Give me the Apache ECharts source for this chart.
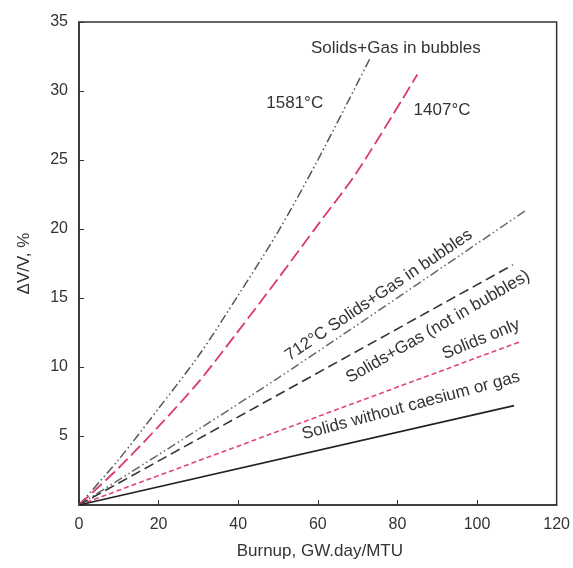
<!DOCTYPE html>
<html>
<head>
<meta charset="utf-8">
<script src="https://cdn.jsdelivr.net/npm/echarts@6/dist/echarts.min.js"></script>
<style>
  html, body { margin: 0; padding: 0; background: #fff; }
  #chart { width: 573px; height: 568px; }
</style>
</head>
<body>
<div id="chart"></div>
<script>
// Swelling (ΔV/V) against burnup for several contributions and temperatures
const xTicks = [0, 20, 40, 60, 80, 100, 120];
const yTicks = [0, 5, 10, 15, 20, 25, 30, 35];

const burnup1581 = [0, 10, 20, 30, 40, 50, 60, 73];
const swell1581  = [0, 3.3, 7.0, 10.8, 15.2, 19.8, 25.0, 32.3];

const burnup1407 = [0, 10, 20, 30, 40, 50, 60, 70, 85];
const swell1407  = [0, 2.7, 5.7, 8.9, 12.6, 16.4, 20.3, 24.2, 31.2];

const burnup712 = [0, 50, 112.5];
const swell712  = [0, 9.2, 21.4];

const burnupGasFree = [0, 109];
const swellGasFree  = [0, 17.4];

const burnupSolids = [0, 110.5];
const swellSolids  = [0, 11.8];

const burnupNoCs = [0, 109.3];
const swellNoCs  = [0, 7.2];

// annotation texts with their anchor in data units and rotation in degrees
const noteTexts  = ['Solids+Gas in bubbles', '1581°C', '1407°C',
                    '712°C Solids+Gas in bubbles', 'Solids+Gas (not in bubbles)',
                    'Solids only', 'Solids without caesium or gas'];
const noteX      = [79.6, 54.2, 91.2, 75.3, 90.2, 101.0, 83.4];
const noteY      = [33.1, 29.1, 28.6, 15.2, 12.9, 12.0, 7.2];
const noteAngle  = [0, 0, 0, 34, 30, 22, 15];

const FONT = 'Liberation Sans, Arial, sans-serif';
const TXT = '#333';

function pairs(xs, ys) { return xs.map((x, i) => [x, ys[i]]); }

function lineSeries(name, xs, ys, color, dash, width, smooth) {
  return {
    name: name,
    type: 'line',
    data: pairs(xs, ys),
    showSymbol: false,
    smooth: smooth || false,
    silent: true,
    lineStyle: { color: color, width: width || 1.6, type: dash }
  };
}

const chart = echarts.init(document.getElementById('chart'), null, { renderer: 'canvas' });

chart.setOption({
  animation: false,
  backgroundColor: '#fff',
  grid: {
    left: 79, right: 16, top: 22, bottom: 63,
    show: true, borderColor: '#333', borderWidth: 1.5
  },
  xAxis: {
    type: 'value', min: xTicks[0], max: xTicks[xTicks.length - 1], interval: 20,
    splitLine: { show: false },
    axisLine: { show: true, lineStyle: { color: '#333', width: 1.5 } },
    axisTick: { show: true, inside: true, length: 5, lineStyle: { color: '#333' } },
    axisLabel: { color: TXT, fontFamily: FONT, fontSize: 16, margin: 12 }
  },
  yAxis: {
    type: 'value', min: yTicks[0], max: yTicks[yTicks.length - 1], interval: 5,
    splitLine: { show: false },
    axisLine: { show: true, lineStyle: { color: '#333', width: 1.5 } },
    axisTick: { show: true, inside: true, length: 5, lineStyle: { color: '#333' } },
    axisLabel: {
      color: TXT, fontFamily: FONT, fontSize: 16, margin: 11,
      formatter: v => (v === 0 ? '' : String(v))
    }
  },
  series: [
    lineSeries('1581°C', burnup1581, swell1581, '#555', [9, 3, 1.5, 3, 1.5, 3], 1.5, 0.3),
    lineSeries('1407°C', burnup1407, swell1407, '#d93a6e', [13, 5], 1.8, 0.3),
    lineSeries('712°C', burnup712, swell712, '#666', [9, 3, 1.5, 3, 1.5, 3], 1.5, 0.3),
    lineSeries('Solids+Gas (not in bubbles)', burnupGasFree, swellGasFree, '#333', [10, 5], 1.6),
    lineSeries('Solids only', burnupSolids, swellSolids, '#e0457b', [5, 3], 1.6),
    lineSeries('Solids without caesium or gas', burnupNoCs, swellNoCs, '#222', 'solid', 1.6)
  ]
});

// place the annotations and axis titles
function drawNotes() {
  const els = noteTexts.map((t, i) => {
    const p = chart.convertToPixel({ gridIndex: 0 }, [noteX[i], noteY[i]]);
    return {
      type: 'text',
      x: p[0], y: p[1],
      rotation: noteAngle[i] * Math.PI / 180,
      silent: true,
      style: {
        text: t, fill: TXT, font: '17px ' + FONT,
        align: 'center', verticalAlign: 'middle'
      }
    };
  });
  const plotLeft = chart.convertToPixel({ gridIndex: 0 }, [0, 0]);
  const plotRight = chart.convertToPixel({ gridIndex: 0 }, [120, 35]);
  els.push({
    type: 'text',
    x: (plotLeft[0] + plotRight[0]) / 2 + 2, y: plotLeft[1] + 46,
    silent: true,
    style: { text: 'Burnup, GW.day/MTU', fill: TXT, font: '17px ' + FONT,
             align: 'center', verticalAlign: 'middle' }
  });
  els.push({
    type: 'text',
    x: 24, y: (plotLeft[1] + plotRight[1]) / 2,
    rotation: Math.PI / 2,
    silent: true,
    style: { text: 'ΔV/V, %', fill: TXT, font: '17px ' + FONT,
             align: 'center', verticalAlign: 'middle' }
  });
  chart.setOption({ graphic: els });
}
drawNotes();
</script>
</body>
</html>
